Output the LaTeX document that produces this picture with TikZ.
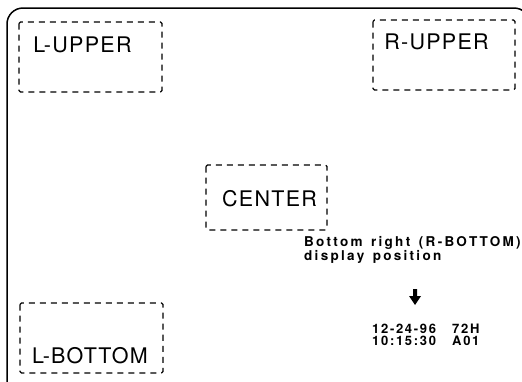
\documentclass[tikz,border=0pt]{standalone}
\usepackage{fontspec}
\setmainfont{TeX Gyre Heros}
\newfontfamily\boxfont[LetterSpace=6]{TeX Gyre Heros}
\newfontfamily\notefont[LetterSpace=17,WordSpace=1.4]{TeX Gyre Heros Bold}
\newfontfamily\datafont[LetterSpace=13]{TeX Gyre Heros Bold}
\begin{document}
\begin{tikzpicture}[x=1pt,y=-1pt,
  dbox/.style={draw,line width=1.2pt,dash pattern=on 6pt off 5pt,rounded corners=1.5pt},
  blabel/.style={inner sep=0pt,font=\boxfont\fontsize{21.5}{24}\selectfont},
  note/.style={inner sep=0pt,anchor=base west,font=\notefont\fontsize{13.5}{14}\selectfont},
  dat/.style={inner sep=0pt,anchor=base west,font=\datafont\fontsize{13}{13}\selectfont}]
\useasboundingbox (0,0) rectangle (522,381);
\begin{scope}
\clip (0,0) rectangle (522,381);
\draw[line width=1.5pt,rounded corners=16pt] (7,8) rectangle (530,398);
\end{scope}
% boxes
\draw[dbox] (19,22) rectangle (162,92);
\draw[dbox] (373,20) rectangle (515,90);
\draw[dbox] (206,165) rectangle (327,230);
\draw[dbox] (20,303) rectangle (163,373);
\node[blabel] (lu) at (82.5,45) {L-UPPER};
\node[blabel] (ru) at (436.5,42) {R-UPPER};
\node[blabel] (ce) at (269.5,199) {CENTER};
\node[blabel] (lb) at (90,356) {L-BOTTOM};
% note
\node[note] (n1) at (304,246) {Bottom right (R-BOTTOM)};
\node[note] (n2) at (304,260) {display position};
% arrow
\fill (413,289) -- (417,289) -- (417,296) -- (421,296) -- (415,305) -- (409,296) -- (413,296) -- cycle;
% data
\node[dat] (d1) at (372,333) {12-24-96};
\node[dat] (d2) at (372,345) {10:15:30};
\node[dat] (d3) at (452,333) {72H};
\node[dat] (d4) at (452,345) {A01};
\end{tikzpicture}
\end{document}
